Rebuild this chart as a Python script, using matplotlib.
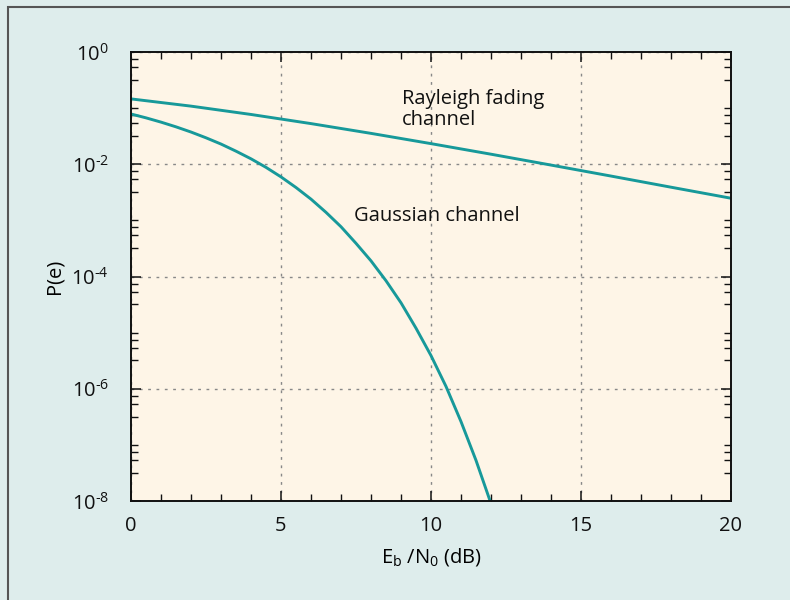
import numpy as np
import matplotlib
matplotlib.use("Agg")
import matplotlib.pyplot as plt
from matplotlib.ticker import LogLocator, MultipleLocator, NullFormatter
from matplotlib.patches import Rectangle

plt.rcParams['font.family'] = ['Open Sans', 'DejaVu Sans']
plt.rcParams['mathtext.fontset'] = 'custom'
plt.rcParams['mathtext.rm'] = 'Open Sans'
plt.rcParams['mathtext.it'] = 'Open Sans'

# Eb/N0 (dB) and read-off error probabilities
snr_gauss = [0, 0.5, 1, 1.5, 2, 2.5, 3, 3.5, 4, 4.5, 5, 5.5, 6, 6.5, 7, 7.5,
             8, 8.5, 9, 9.5, 10, 10.5, 11, 11.5, 12, 12.2]
pe_gauss = [0.0786, 0.0671, 0.0563, 0.0464, 0.0375, 0.0296, 0.0229, 0.0171,
            0.0125, 0.0088, 0.00595, 0.00385, 0.00239, 0.00139, 7.7e-4, 3.9e-4,
            1.9e-4, 8.4e-5, 3.4e-5, 1.2e-5, 3.9e-6, 1.1e-6, 2.6e-7, 5.3e-8,
            9.0e-9, 5.0e-9]

snr_ray = [0, 2, 4, 6, 8, 10, 12, 14, 16, 18, 20]
pe_ray = [0.146, 0.1085, 0.0771, 0.053, 0.0355, 0.0233, 0.0151, 0.00967,
          0.00616, 0.0039, 0.00248]

yticks = [1e0, 1e-2, 1e-4, 1e-6, 1e-8]
ytick_labels = ['$10^{0}$', '$10^{\\text{-}2}$', '$10^{\\text{-}4}$',
                '$10^{\\text{-}6}$', '$10^{\\text{-}8}$']
xticks = [0, 5, 10, 15, 20]

teal = '#17999a'
fs = 14.5

fig = plt.figure(figsize=(7.9, 6), dpi=100)
fig.patch.set_facecolor('#deedec')
fig.patches.append(Rectangle((8 / 790, -0.1), 1.2, 1.1 - 7 / 600,
                             transform=fig.transFigure, fill=False,
                             edgecolor='#555555', linewidth=1.5))

ax = fig.add_axes([131 / 790, 99 / 600, 600 / 790, 449 / 600])
ax.set_facecolor('#fef5e7')

ax.plot(snr_ray, pe_ray, color=teal, lw=2.1)
ax.plot(snr_gauss, pe_gauss, color=teal, lw=2.1)

ax.set_yscale('log')
ax.set_xlim(0, 20)
ax.set_ylim(1e-8, 1e0)
ax.set_xticks(xticks)
ax.set_xticklabels([str(x) for x in xticks])
ax.set_yticks(yticks)
ax.set_yticklabels(ytick_labels)
ax.xaxis.set_minor_locator(MultipleLocator(1))
ax.yaxis.set_minor_locator(LogLocator(base=10, subs=(1.0, 3.2, 5.4, 7.5), numticks=50))
ax.yaxis.set_minor_formatter(NullFormatter())

ax.tick_params(which='both', direction='in', top=True, right=True,
               colors='#111111', labelsize=fs)
ax.tick_params(which='major', length=7, width=1.1)
ax.tick_params(axis='y', which='major', pad=16)
ax.tick_params(axis='x', which='major', pad=11)
ax.tick_params(which='minor', length=5, width=1.0)
for s in ax.spines.values():
    s.set_linewidth(1.4)
    s.set_color('#111111')

ax.grid(True, which='major', linestyle=(0, (2, 4)), color='#888888', lw=1.0)

ax.text(9.03, 10 ** -1.02, 'Rayleigh fading\nchannel', fontsize=fs,
        va='center', ha='left', linespacing=1.05, color='#111111')
ax.text(7.43, 10 ** -2.93, 'Gaussian channel', fontsize=fs,
        va='center', ha='left', color='#111111')

ax.set_xlabel('E$_{\\mathrm{b}}$ /N$_{0}$ (dB)', fontsize=fs, labelpad=7)
ax.set_ylabel('P(e)', fontsize=fs, labelpad=5)

fig.savefig('out.png', dpi=100, facecolor=fig.get_facecolor())
